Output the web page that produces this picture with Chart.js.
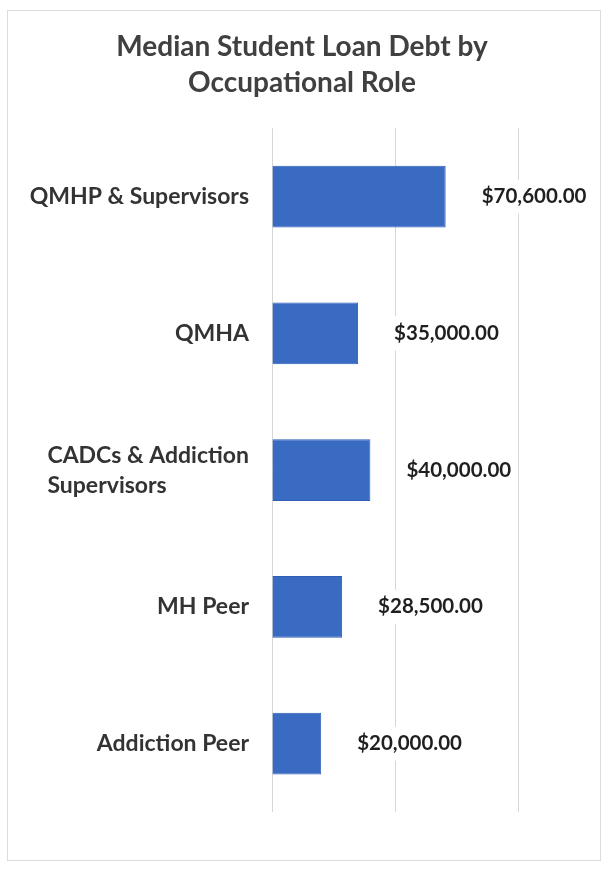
<!DOCTYPE html>
<html>
<head>
<meta charset="utf-8">
<title>Median Student Loan Debt by Occupational Role</title>
<script src="https://cdn.jsdelivr.net/npm/chart.js@4/dist/chart.umd.min.js"></script>
<style>
  html, body {
    margin: 0;
    padding: 0;
    background: #ffffff;
  }
  #page {
    position: relative;
    width: 604px;
    height: 869px;
  }
  #frame {
    position: absolute;
    left: 7px;
    top: 10px;
    width: 592px;
    height: 849px;
    border: 1px solid #dcdcdc;
    pointer-events: none;
  }
  #debtChart {
    position: absolute;
    left: 0;
    top: 0;
  }
</style>
</head>
<body>
<div id="page">
  <div id="frame"></div>
  <canvas id="debtChart" width="604" height="869"></canvas>
</div>

<script>
// Chart data
const roles = [
  ["QMHP & Supervisors"],
  ["QMHA"],
  ["CADCs & Addiction", "Supervisors"],
  ["MH Peer"],
  ["Addiction Peer"]
];
const medianDebt = [70600, 35000, 40000, 28500, 20000];
const axisTicks = [0, 50000, 100000];

const titleLines = ["Median Student Loan Debt by", "Occupational Role"];

const FONT = "Lato, 'Open Sans', 'DejaVu Sans', sans-serif";

// Formats a number like $70,600.00
function formatMoney(value) {
  return "$" + value.toLocaleString("en-US", {
    minimumFractionDigits: 2,
    maximumFractionDigits: 2
  });
}

// Draws the role names left of the bars (multi-line names are left aligned as a block)
const roleLabelsPlugin = {
  id: "roleLabels",
  afterDraw(chart) {
    const ctx = chart.ctx;
    const yScale = chart.scales.y;
    const rightEdge = chart.chartArea.left - 23;
    const lineHeight = 30;

    ctx.save();
    ctx.font = "bold 23px " + FONT;
    ctx.fillStyle = "#333333";
    ctx.textAlign = "left";
    ctx.textBaseline = "middle";

    roles.forEach((lines, i) => {
      const centerY = yScale.getPixelForValue(i);
      const blockWidth = Math.max(...lines.map(line => ctx.measureText(line).width));
      const startX = rightEdge - blockWidth;
      const startY = centerY - (lines.length - 1) * lineHeight / 2;

      lines.forEach((line, j) => {
        ctx.fillText(line, startX, startY + j * lineHeight);
      });
    });

    ctx.restore();
  }
};

// Draws value labels to the right of each bar, on a white box over the gridlines
const valueLabelsPlugin = {
  id: "valueLabels",
  afterDatasetsDraw(chart) {
    const ctx = chart.ctx;
    const meta = chart.getDatasetMeta(0);

    ctx.save();
    ctx.font = "bold 20.5px " + FONT;
    ctx.textAlign = "left";
    ctx.textBaseline = "middle";

    meta.data.forEach((bar, i) => {
      const text = formatMoney(medianDebt[i]);
      const x = bar.x + 36;
      const y = bar.y;
      const w = ctx.measureText(text).width;

      ctx.fillStyle = "#ffffff";
      ctx.fillRect(x - 5, y - 17, w + 10, 34);

      ctx.fillStyle = "#1f1f1f";
      ctx.fillText(text, x, y);
    });

    ctx.restore();
  }
};

const ctx = document.getElementById("debtChart").getContext("2d");

const debtChart = new Chart(ctx, {
  type: "bar",
  data: {
    labels: roles,
    datasets: [
      {
        label: "Median Student Loan Debt",
        data: medianDebt,
        backgroundColor: "#3a6bc3",
        borderColor: "#2d5eb7",
        borderWidth: 1,
        barPercentage: 0.9,
        categoryPercentage: 0.5,
        yAxisID: "y"
      }
    ]
  },
  options: {
    indexAxis: "y",
    responsive: false,
    animation: false,
    devicePixelRatio: 1,
    layout: {
      padding: { top: 10, right: 0, bottom: 57, left: 0 }
    },
    plugins: {
      legend: { display: false },
      tooltip: { enabled: false },
      title: {
        display: true,
        text: titleLines,
        color: "#404040",
        font: { family: FONT, size: 28, weight: "bold", lineHeight: 1.29 },
        padding: { top: 19, bottom: 27 }
      }
    },
    scales: {
      x: {
        min: axisTicks[0],
        max: axisTicks[axisTicks.length - 1],
        afterBuildTicks(scale) {
          scale.ticks = axisTicks.map(v => ({ value: v }));
        },
        ticks: { display: false },
        border: { display: false },
        grid: {
          color: "#d6d6d6",
          lineWidth: 1,
          drawTicks: false
        }
      },
      y: {
        ticks: { display: false },
        border: { display: false },
        grid: { display: false, drawTicks: false },
        afterFit(scale) {
          // keep the plot area starting where the reference bars start
          scale.width = 272;
        }
      },
      // empty right-hand axis: leaves room for the value labels
      // while the title stays centred on the whole page
      yRight: {
        type: "category",
        position: "right",
        ticks: { display: false },
        border: { display: false },
        grid: { display: false, drawTicks: false },
        afterFit(scale) {
          scale.width = 86;
        }
      }
    }
  },
  plugins: [roleLabelsPlugin, valueLabelsPlugin]
});
</script>
</body>
</html>
